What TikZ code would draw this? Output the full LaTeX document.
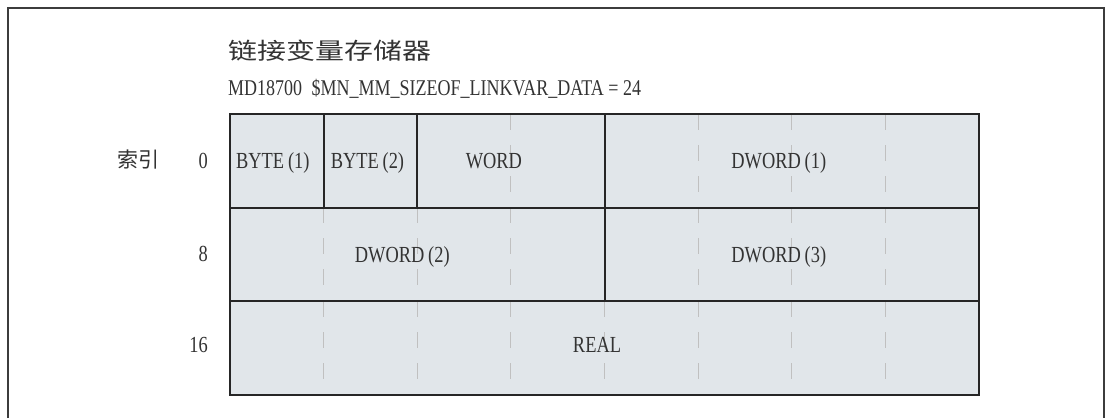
\documentclass[tikz,border=0pt]{standalone}
\usepackage{fontspec}
\setmainfont{Liberation Serif}
\newfontfamily\cjkfont{Noto Sans CJK SC}
\newfontfamily\cjkwide[FakeStretch=1.26]{Noto Sans CJK SC}
\newfontfamily\codefont[FakeStretch=0.8]{Liberation Serif}
\usetikzlibrary{positioning}
\definecolor{cellcolor}{RGB}{225, 230, 234}
\definecolor{linecolor}{RGB}{38, 38, 38}
\definecolor{dashcolor}{RGB}{192, 192, 192}
\definecolor{framecolor}{RGB}{60, 60, 60}
\definecolor{textcolor}{RGB}{51, 51, 51}
\newlength\colw
\setlength\colw{93.625pt}
\newlength\rowh
\setlength\rowh{93.667pt}
\tikzset{
    cell/.style = {
        rectangle, anchor=north west, minimum height=\rowh, inner sep=0pt,
        outer sep=0pt, draw=linecolor, line width=2pt, fill=cellcolor
    },
    celltext/.style = {
        text=textcolor, font=\codefont\fontsize{23}{23}\selectfont,
        inner sep=0pt, text height=15pt, text depth=0pt
    },
    rowtext/.style = {celltext, anchor=east},
    titletext/.style = {text=textcolor, font=\cjkwide\fontsize{23}{23}\selectfont, inner sep=0pt, anchor=west},
    idxtext/.style = {text=textcolor, font=\cjkfont\fontsize{21}{21}\selectfont, inner sep=0pt, anchor=west},
    gridmark/.style = {draw=dashcolor, line width=1pt, dash pattern=on 15.5pt off 15.5pt},
    frame/.style = {draw=framecolor, line width=2pt}
}

\begin{document}
\begin{tikzpicture}[x=1pt, y=-1pt]
\useasboundingbox (0,0) rectangle (1109,418);
\draw[frame] (8,418) |- (1104,8) -- (1104,418);
% Heading
\node[titletext] (title) at (228,51) {链接变量存储器};
\node[celltext, anchor=west, font=\codefont\fontsize{22.5}{23}\selectfont] (param) at (228,88) {MD18700\hspace{5pt} \$MN\_MM\_SIZEOF\_LINKVAR\_DATA = 24};
% Cells
\node[cell, minimum width=\colw] (byte1) at (230,114) {};
\node[cell, minimum width=\colw, right=0pt of byte1] (byte2) {};
\node[cell, minimum width=2*\colw, right=0pt of byte2] (word) {};
\node[cell, minimum width=4*\colw, right=0pt of word] (dw1) {};
\node[cell, minimum width=4*\colw] (dw2) at (byte1.south west) {};
\node[cell, minimum width=4*\colw, right=0pt of dw2] (dw3) {};
\node[cell, minimum width=8*\colw] (real) at (dw2.south west) {};
% Byte marks
\foreach \x in {510.9, 698.1, 791.75, 885.4}
  \draw[gridmark] (\x,114) -- (\x,207);
\foreach \x in {323.6, 417.25, 510.9, 698.1, 791.75, 885.4}
  \draw[gridmark] (\x,207) -- (\x,301);
\foreach \x in {323.6, 417.25, 510.9, 604.5, 698.1, 791.75, 885.4}
  \draw[gridmark] (\x,301) -- (\x,395);
\foreach \n in {byte1, byte2, word, dw1, dw2, dw3, real}
  \draw[draw=linecolor, line width=2pt] (\n.north west) rectangle (\n.south east);
% Labels
\node[celltext, xshift=-4pt] (byte1text) at (byte1) {BYTE\,(1)};
\node[celltext, xshift=-3pt] (byte2text) at (byte2) {BYTE\,(2)};
\node[celltext, xshift=-17pt] (wordtext) at (word) {WORD};
\node[celltext, xshift=-13pt] (dw1text) at (dw1) {DWORD\,(1)};
\node[celltext, xshift=-15pt] (dw2text) at (dw2) {DWORD\,(2)};
\node[celltext, xshift=-13pt] (dw3text) at (dw3) {DWORD\,(3)};
\node[celltext, xshift=-7.5pt, yshift=3pt] (realtext) at (real) {REAL};
% Index
\node[idxtext] (idx) at (117,160) {索引};
\node[rowtext] (row0) at (208,160.5) {0};
\node[rowtext] (row8) at (208,254) {8};
\node[rowtext] (row16) at (208,345) {16};
\end{tikzpicture}
\end{document}
